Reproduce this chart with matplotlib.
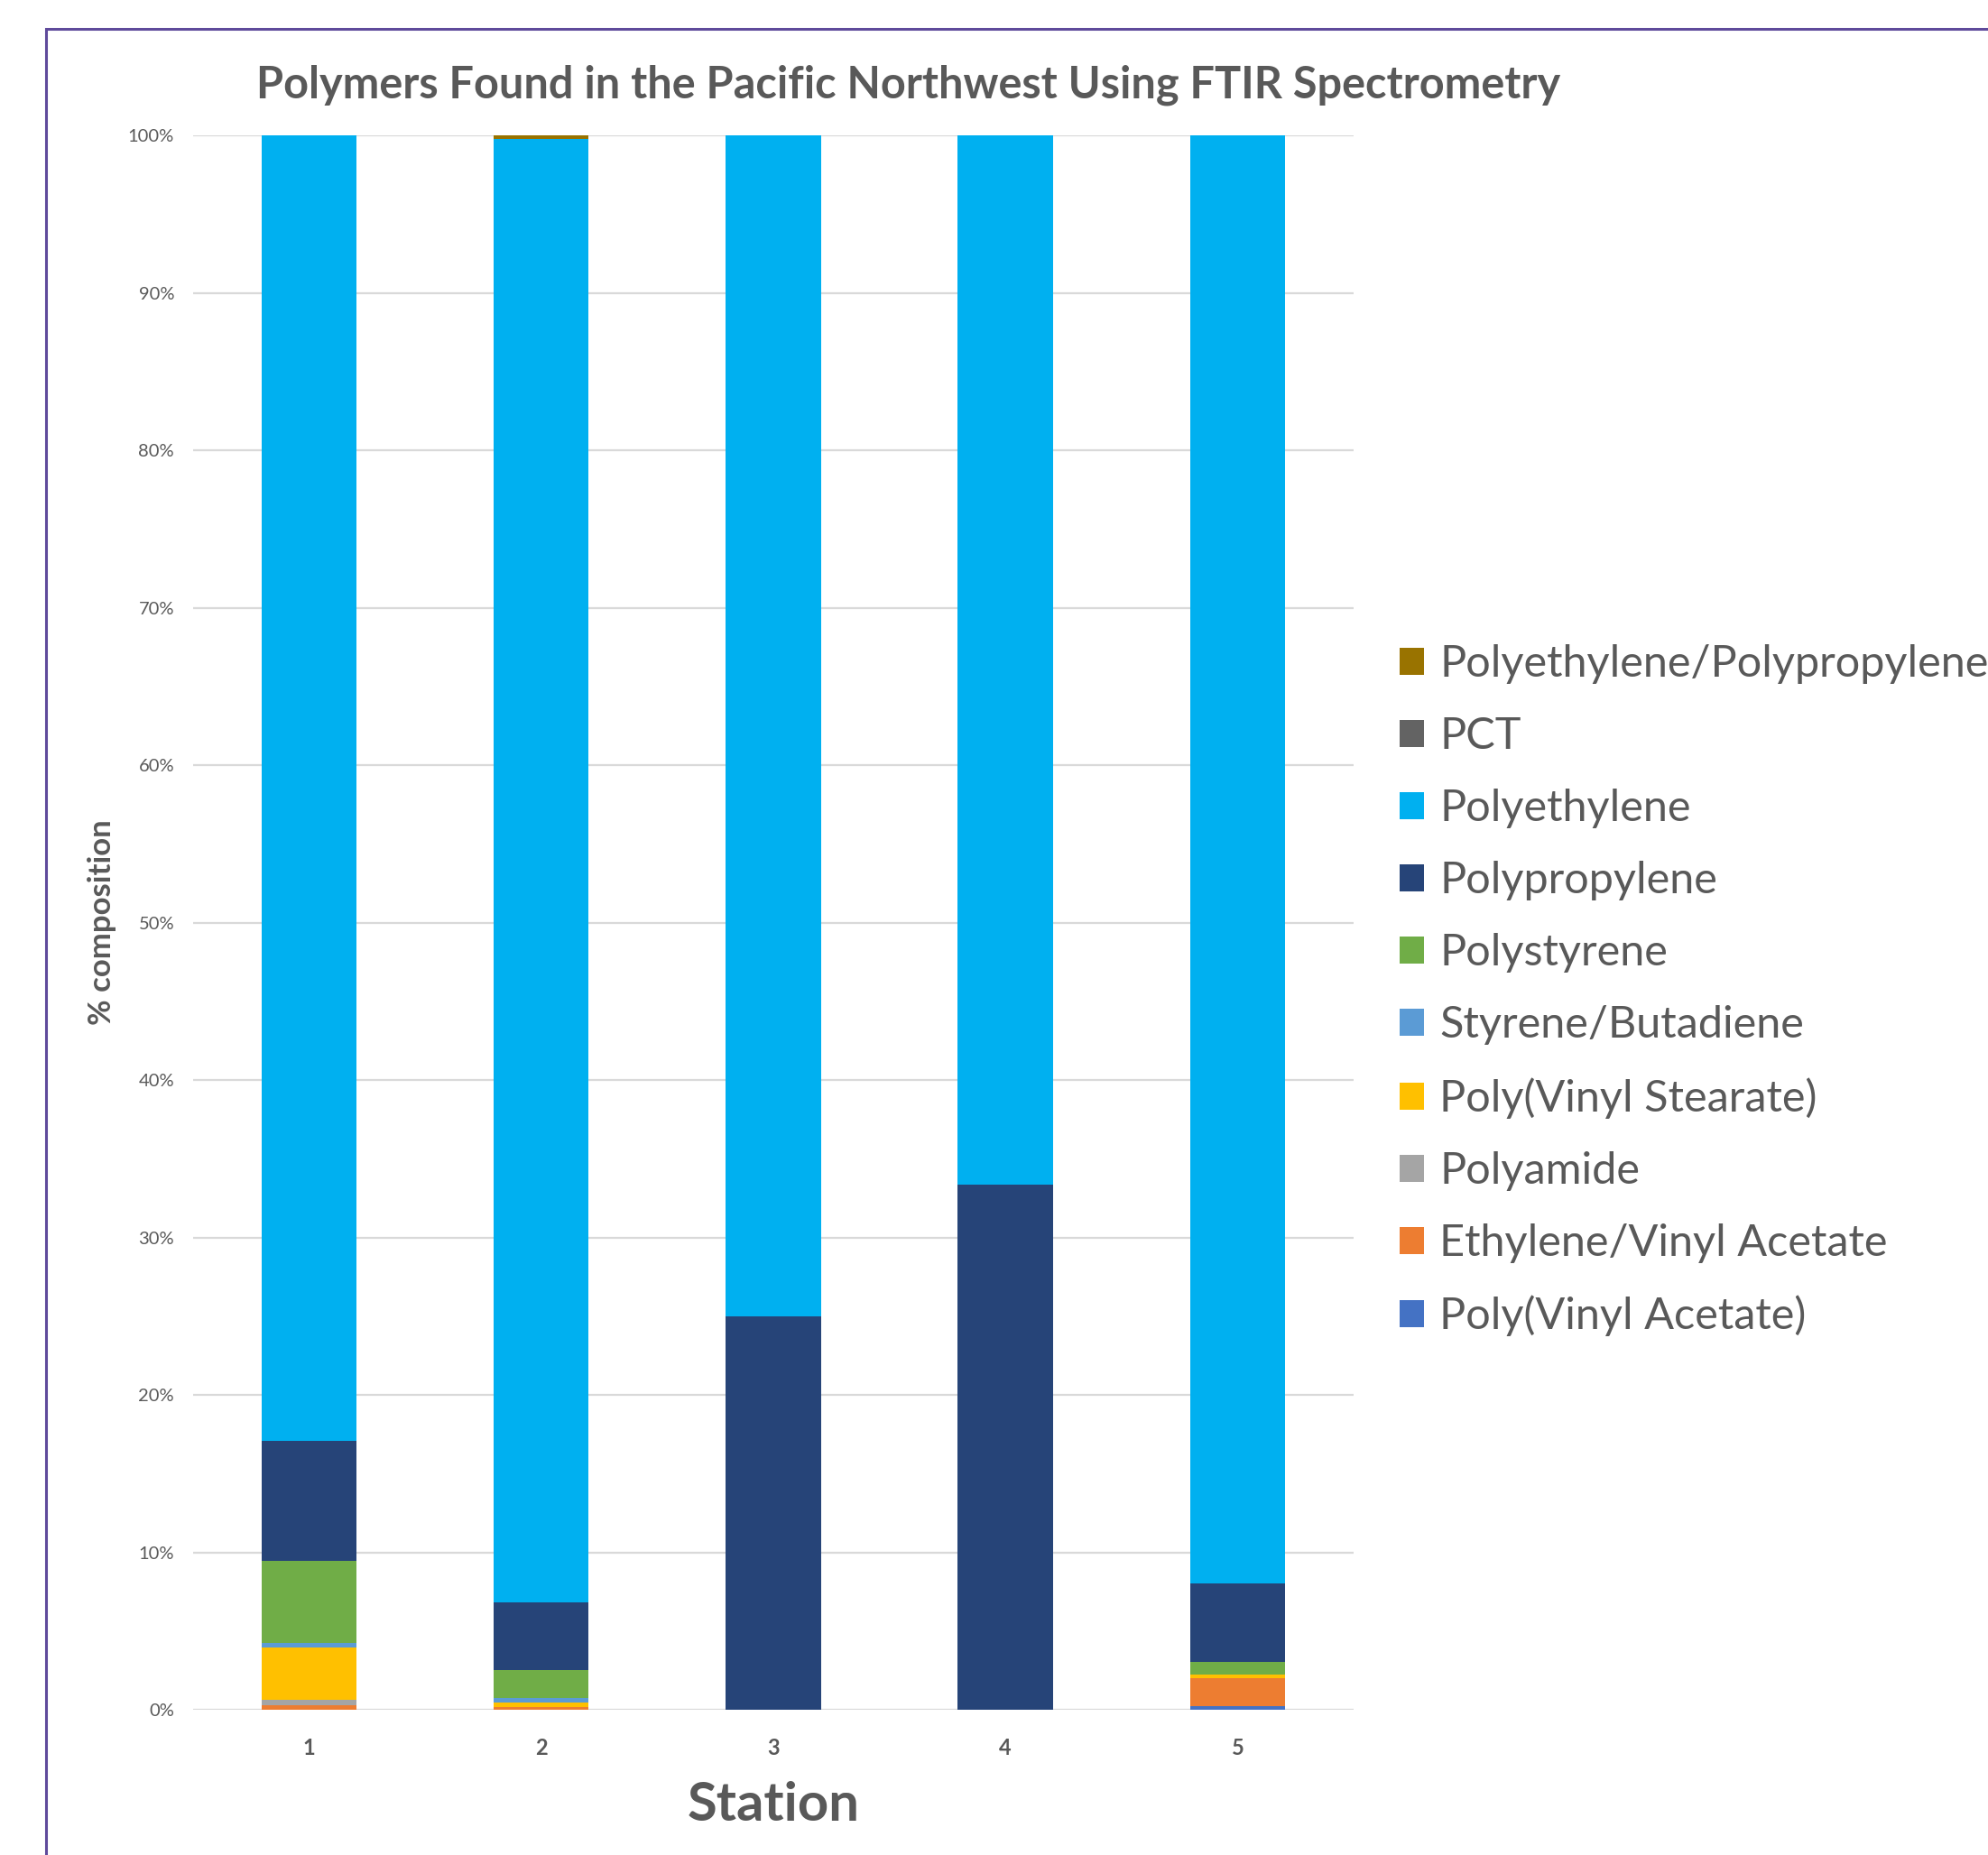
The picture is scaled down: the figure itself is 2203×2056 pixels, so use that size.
import matplotlib
matplotlib.use("Agg")
import matplotlib.pyplot as plt
from matplotlib.patches import Rectangle
from matplotlib.ticker import PercentFormatter
import numpy as np

TEXT_GREY = '#595959'
FONT = ['Lato', 'DejaVu Sans']

stations = ['1', '2', '3', '4', '5']

# stacking order, bottom to top (percent of particles per station)
polymers = [
    'Poly(Vinyl Acetate)',
    'Ethylene/Vinyl Acetate',
    'Polyamide',
    'Poly(Vinyl Stearate)',
    'Styrene/Butadiene',
    'Polystyrene',
    'Polypropylene',
    'Polyethylene',
    'PCT',
    'Polyethylene/Polypropylene',
]
poly_vinyl_acetate = [0.0, 0.0, 0.0, 0.0, 0.21]
ethylene_vinyl_acetate = [0.28, 0.19, 0.0, 0.0, 1.81]
polyamide = [0.34, 0.0, 0.0, 0.0, 0.0]
poly_vinyl_stearate = [3.34, 0.26, 0.0, 0.0, 0.21]
styrene_butadiene = [0.29, 0.27, 0.0, 0.0, 0.0]
polystyrene = [5.21, 1.81, 0.0, 0.0, 0.78]
polypropylene = [7.62, 4.30, 25.0, 33.33, 5.02]
polyethylene = [82.92, 92.97, 75.0, 66.67, 91.97]
pct = [0.0, 0.0, 0.0, 0.0, 0.0]
pe_pp = [0.0, 0.20, 0.0, 0.0, 0.0]

series = [poly_vinyl_acetate, ethylene_vinyl_acetate, polyamide, poly_vinyl_stearate,
          styrene_butadiene, polystyrene, polypropylene, polyethylene, pct, pe_pp]
colors = ['#4472C4', '#ED7D31', '#A5A5A5', '#FFC000', '#5B9BD5',
          '#70AD47', '#264478', '#00B0F0', '#636363', '#997300']

fig = plt.figure(figsize=(22.03, 20.56), dpi=100)
ax = fig.add_axes([0.0971, 0.0783, 0.5838, 0.8487])

x = np.arange(len(stations))
bottom = np.zeros(len(stations))
handles = []
for name, vals, col in zip(polymers, series, colors):
    vals = np.array(vals)
    h = ax.bar(x, vals, width=0.41, bottom=bottom, color=col, label=name, zorder=3)
    handles.append(h)
    bottom += vals

ax.set_xlim(-0.5, len(stations) - 0.5)
ax.set_ylim(0, 100)
ax.set_yticks(np.arange(0, 101, 10))
ax.yaxis.set_major_formatter(PercentFormatter(decimals=0))
ax.set_xticks(x)
ax.set_xticklabels(stations, fontweight='bold', family=FONT)
ax.grid(axis='y', color='#D9D9D9', linewidth=1.6, zorder=0)
for s in ax.spines.values():
    s.set_visible(False)
ax.tick_params(length=0)
ax.tick_params(axis='y', labelsize=14.5, labelcolor=TEXT_GREY, pad=15)
ax.tick_params(axis='x', labelsize=17, labelcolor=TEXT_GREY, pad=22)
for lbl in ax.get_yticklabels():
    lbl.set_family(FONT)

ax.set_ylabel('% composition', fontsize=25, fontweight='bold', color=TEXT_GREY,
              family=FONT, labelpad=9)
ax.set_xlabel('Station', fontsize=43, fontweight='bold', color=TEXT_GREY,
              family=FONT, labelpad=18)

fig.text(0.457, 0.954, 'Polymers Found in the Pacific Northwest Using FTIR Spectrometry',
         ha='center', va='center', fontsize=35, fontweight='bold',
         color=TEXT_GREY, family=FONT)

leg = fig.legend(handles[::-1], polymers[::-1], loc='center left',
                 bbox_to_anchor=(0.684, 0.466), frameon=False,
                 prop={'family': FONT, 'size': 35},
                 handlelength=0.57, handleheight=0.57, handletextpad=0.35,
                 labelspacing=0.74)
for t in leg.get_texts():
    t.set_color(TEXT_GREY)

# outer chart frame
fig.patches.append(Rectangle((51 / 2203, -0.05), 1.2, 1 - 32 / 2056 + 0.05,
                             transform=fig.transFigure, fill=False,
                             edgecolor='#5F4A9B', linewidth=2.2))

fig.savefig('out.png', dpi=100)
